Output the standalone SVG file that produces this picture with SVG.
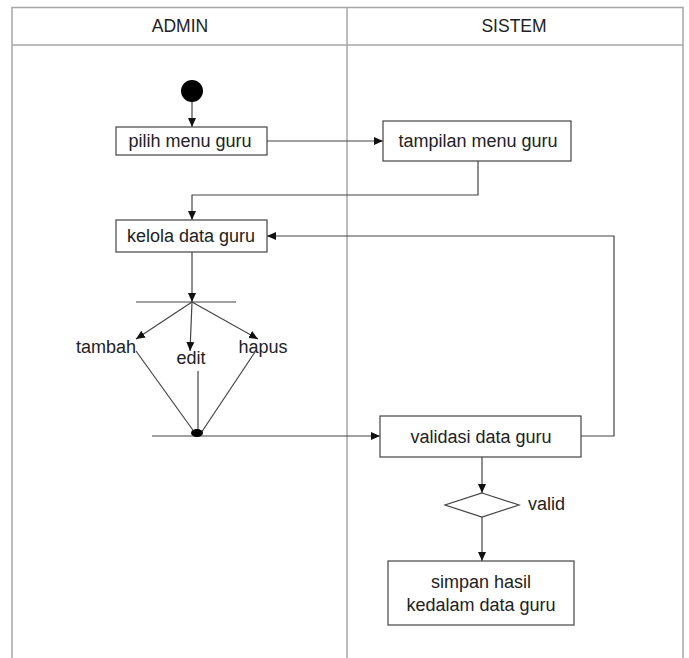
<svg xmlns="http://www.w3.org/2000/svg" width="689" height="658" viewBox="0 0 689 658">
<defs>
<marker id="arr" markerWidth="10" markerHeight="10" refX="9" refY="5" orient="auto" markerUnits="userSpaceOnUse">
<path d="M0,1 L9,5 L0,9 Z" fill="#111"/>
</marker>
<style>
.lane{stroke:#a6a6a6;stroke-width:1.5;fill:none}
.box{fill:#fff;stroke:#444;stroke-width:1.2}
.ln{stroke:#444;stroke-width:1.2;fill:none}
.t{font-family:"Liberation Sans",Arial,sans-serif;font-size:18px;fill:#222;text-anchor:middle;dominant-baseline:central}
.h{font-size:17.5px}
.lbl{font-family:"Liberation Sans",Arial,sans-serif;font-size:18px;fill:#222;dominant-baseline:central}
</style>
</defs>
<rect width="689" height="658" fill="#fff"/>
<g id="swimlanes">
<path class="lane" d="M12,658 V7.5 H683 V658"/>
<line class="lane" x1="12" y1="45" x2="683" y2="45" stroke-width="2.5"/>
<line class="lane" x1="347" y1="7" x2="347" y2="658"/>
<text class="t h" x="180" y="26">ADMIN</text>
<text class="t h" x="514" y="26">SISTEM</text>
</g>
<g id="connectors">
<line class="ln" x1="192" y1="102" x2="192" y2="127" marker-end="url(#arr)"/>
<line class="ln" x1="267" y1="141" x2="383" y2="141" marker-end="url(#arr)"/>
<polyline class="ln" points="478,161 478,195 192,195 192,220" marker-end="url(#arr)"/>
<line class="ln" x1="192" y1="252" x2="192" y2="302" marker-end="url(#arr)"/>
<line class="ln" x1="136" y1="302" x2="236" y2="302"/>
<line class="ln" x1="192" y1="302" x2="136" y2="339" marker-end="url(#arr)"/>
<line class="ln" x1="192" y1="302" x2="190" y2="351" marker-end="url(#arr)"/>
<line class="ln" x1="192" y1="302" x2="258" y2="339" marker-end="url(#arr)"/>
<line class="ln" x1="136" y1="351" x2="195" y2="433"/>
<line class="ln" x1="198" y1="371" x2="198" y2="433"/>
<line class="ln" x1="255" y1="352" x2="201" y2="433"/>
<line class="ln" x1="152" y1="436" x2="380" y2="436" marker-end="url(#arr)"/>
<polyline class="ln" points="581,436 614,436 614,236 267,236" marker-end="url(#arr)"/>
<line class="ln" x1="482" y1="457" x2="482" y2="493" marker-end="url(#arr)"/>
<line class="ln" x1="482" y1="517" x2="482" y2="561" marker-end="url(#arr)"/>
</g>
<g id="start"><circle cx="192" cy="91" r="11" fill="#000"/></g>
<g id="pilih"><rect class="box" x="116" y="127" width="151" height="28"/><text class="t" x="190" y="141">pilih menu guru</text></g>
<g id="tampilan"><rect class="box" x="383" y="121" width="188" height="40"/><text class="t" x="478" y="141">tampilan menu guru</text></g>
<g id="kelola"><rect class="box" x="116" y="220" width="151" height="32"/><text class="t" x="191" y="236">kelola data guru</text></g>
<g id="fork-labels">
<text class="t" x="106" y="347">tambah</text>
<text class="t" x="191" y="358">edit</text>
<text class="t" x="263" y="347">hapus</text>
</g>
<g id="join"><ellipse cx="197" cy="433" rx="6" ry="4" fill="#000"/></g>
<g id="validasi"><rect class="box" x="380" y="416" width="201" height="41"/><text class="t" x="481" y="436.5">validasi data guru</text></g>
<g id="decision"><polygon class="box" points="482,493 519,505 482,517 445,505"/><text class="lbl" x="528" y="504">valid</text></g>
<g id="simpan"><rect class="box" x="388" y="561" width="186" height="64"/><text class="t" x="481" y="582">simpan hasil</text><text class="t" x="481" y="605">kedalam data guru</text></g>
</svg>
